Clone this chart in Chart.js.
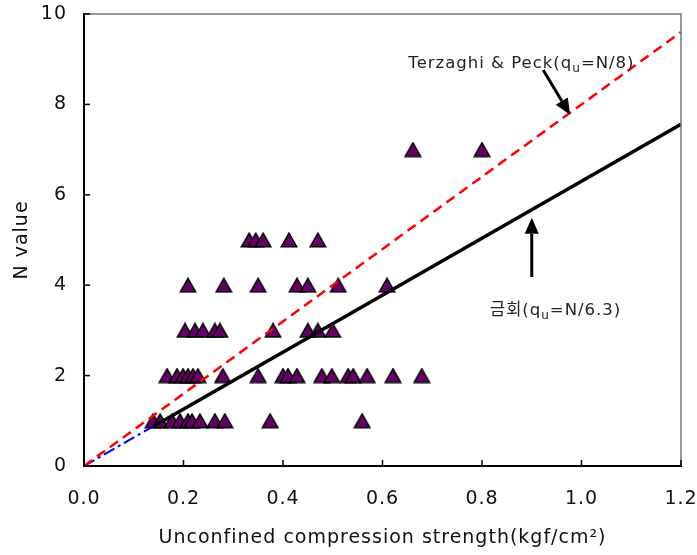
<!DOCTYPE html>
<html>
<head>
<meta charset="utf-8">
<script src="https://cdn.jsdelivr.net/npm/chart.js@4.4.1/dist/chart.umd.min.js"></script>
<style>
  html, body { margin: 0; padding: 0; background: #fff; }
</style>
</head>
<body>
<canvas id="chart" width="697" height="555"></canvas>
<script>
// measured points: unconfined compression strength (kgf/cm2) vs N value
const quValues = [
  0.139, 0.153, 0.177, 0.193, 0.209, 0.217, 0.233, 0.263, 0.283, 0.374, 0.559,
  0.167, 0.187, 0.199, 0.209, 0.219, 0.229, 0.279, 0.350, 0.400, 0.410, 0.428, 0.478, 0.498, 0.531, 0.541, 0.569, 0.621, 0.679,
  0.203, 0.223, 0.239, 0.263, 0.273, 0.380, 0.450, 0.470, 0.500,
  0.209, 0.281, 0.350, 0.428, 0.450, 0.511, 0.609,
  0.332, 0.345, 0.360, 0.412, 0.470,
  0.661, 0.800
];
const nValues = [
  1, 1, 1, 1, 1, 1, 1, 1, 1, 1, 1,
  2, 2, 2, 2, 2, 2, 2, 2, 2, 2, 2, 2, 2, 2, 2, 2, 2, 2,
  3, 3, 3, 3, 3, 3, 3, 3, 3,
  4, 4, 4, 4, 4, 4, 4,
  5, 5, 5, 5, 5,
  7, 7
];

// Terzaghi & Peck: qu = N/8
const terzaghiQu = [0, 1.2];
const terzaghiN = [0, 9.6];
// this study: qu = N/6.3 (dash-dot over full range, solid over data range)
const studyQu = [0, 1.2];
const studyN = [0, 7.56];
const fitQu = [0.14, 1.2];
const fitN = [0.88, 7.56];

const xTicks = [0, 0.2, 0.4, 0.6, 0.8, 1.0, 1.2];
const yTicks = [0, 2, 4, 6, 8, 10];

const FONT = '"DejaVu Sans", "Noto Sans CJK KR", sans-serif';

function pairs(xs, ys) {
  return xs.map((v, i) => ({ x: v, y: ys[i] }));
}

// triangle marker centred on its bounding box, like the original
function makeTriangle() {
  const c = document.createElement('canvas');
  c.width = 18;
  c.height = 16;
  const g = c.getContext('2d');
  g.beginPath();
  g.moveTo(9, 1.2);
  g.lineTo(16.8, 14.8);
  g.lineTo(1.2, 14.8);
  g.closePath();
  g.fillStyle = '#660066';
  g.fill();
  g.lineWidth = 1.5;
  g.lineJoin = 'miter';
  g.strokeStyle = '#000';
  g.stroke();
  return c;
}

function drawArrow(ctx, x1, y1, x2, y2) {
  const ang = Math.atan2(y2 - y1, x2 - x1);
  const head = 16, half = 7;
  const bx = x2 - Math.cos(ang) * head, by = y2 - Math.sin(ang) * head;
  ctx.strokeStyle = '#000';
  ctx.fillStyle = '#000';
  ctx.lineWidth = 3;
  ctx.beginPath();
  ctx.moveTo(x1, y1);
  ctx.lineTo(bx, by);
  ctx.stroke();
  ctx.beginPath();
  ctx.moveTo(x2, y2);
  ctx.lineTo(bx + Math.sin(ang) * half, by - Math.cos(ang) * half);
  ctx.lineTo(bx - Math.sin(ang) * half, by + Math.cos(ang) * half);
  ctx.closePath();
  ctx.fill();
}

// text with a subscript in the middle: "pre" + sub + "post"
function drawSubText(ctx, x, y, pre, sub, post) {
  ctx.fillStyle = '#222';
  ctx.textBaseline = 'alphabetic';
  ctx.textAlign = 'left';
  ctx.font = '16.5px ' + FONT;
  ctx.fillText(pre, x, y);
  x += ctx.measureText(pre).width;
  ctx.font = '12px ' + FONT;
  ctx.fillText(sub, x, y + 4);
  x += ctx.measureText(sub).width;
  ctx.font = '16.5px ' + FONT;
  ctx.fillText(post, x, y);
}

// the original font is set loosely, so widen the letters a bit
const spacingPlugin = {
  id: 'spacing',
  beforeLayout(chart) { chart.ctx.letterSpacing = '1px'; },
  beforeDraw(chart) { chart.ctx.letterSpacing = '1px'; }
};

const notesPlugin = {
  id: 'notes',
  afterDatasetsDraw(chart) {
    const { ctx, chartArea: a, scales: { x, y } } = chart;
    ctx.save();
    // top and right frame
    ctx.strokeStyle = '#777';
    ctx.lineWidth = 1.5;
    ctx.beginPath();
    ctx.moveTo(a.left, a.top);
    ctx.lineTo(a.right, a.top);
    ctx.lineTo(a.right, a.bottom);
    ctx.stroke();

    // inward tick marks
    ctx.strokeStyle = '#000';
    ctx.lineWidth = 1.5;
    yTicks.forEach(v => {
      const py = y.getPixelForValue(v);
      ctx.beginPath(); ctx.moveTo(a.left, py); ctx.lineTo(a.left + 6, py); ctx.stroke();
    });
    xTicks.forEach(v => {
      const px = x.getPixelForValue(v);
      ctx.beginPath(); ctx.moveTo(px, a.bottom); ctx.lineTo(px, a.bottom - 6); ctx.stroke();
    });

    // arrows and labels
    drawArrow(ctx, x.getPixelForValue(0.923), y.getPixelForValue(8.76),
                   x.getPixelForValue(0.977), y.getPixelForValue(7.77));
    drawArrow(ctx, x.getPixelForValue(0.9), y.getPixelForValue(4.18),
                   x.getPixelForValue(0.9), y.getPixelForValue(5.49));
    drawSubText(ctx, x.getPixelForValue(0.652), y.getPixelForValue(8.8), 'Terzaghi & Peck(q', 'u', '=N/8)');
    drawSubText(ctx, x.getPixelForValue(0.816), y.getPixelForValue(3.34), '금회(q', 'u', '=N/6.3)');
    ctx.restore();
  }
};

new Chart(document.getElementById('chart'), {
  type: 'scatter',
  data: {
    datasets: [
      {
        label: 'Terzaghi & Peck',
        type: 'line',
        data: pairs(terzaghiQu, terzaghiN),
        borderColor: '#ff0000',
        borderWidth: 2.5,
        borderDash: [10, 6],
        pointRadius: 0,
        order: 0
      },
      {
        label: 'fit',
        type: 'line',
        data: pairs(fitQu, fitN),
        borderColor: '#000',
        borderWidth: 3.5,
        pointRadius: 0,
        order: 0
      },
      {
        label: 'qu=N/6.3',
        type: 'line',
        data: pairs(studyQu, studyN),
        borderColor: '#0000ff',
        borderWidth: 2,
        borderDash: [12, 4, 3, 4],
        pointRadius: 0,
        order: 1
      },
      {
        label: 'data',
        data: pairs(quValues, nValues),
        pointStyle: makeTriangle(),
        pointRadius: 9,
        pointHoverRadius: 9,
        order: 2
      }
    ]
  },
  options: {
    responsive: false,
    animation: false,
    layout: { padding: { top: 14, right: 16, left: 0, bottom: 0 } },
    plugins: {
      legend: { display: false },
      tooltip: { enabled: false }
    },
    scales: {
      x: {
        type: 'linear',
        min: 0,
        max: 1.2,
        afterFit: s => { s.height = 89; s.paddingLeft = 0; s.paddingRight = 0; },
        afterBuildTicks: s => { s.ticks = xTicks.map(v => ({ value: v })); },
        ticks: {
          color: '#111',
          font: { family: FONT, size: 19 },
          padding: 22,
          callback: v => Number(v).toFixed(1)
        },
        grid: { drawOnChartArea: false, drawTicks: false },
        border: { display: true, color: '#000', width: 2 },
        title: {
          display: true,
          text: 'Unconfined compression strength(kgf/cm²)',
          color: '#111',
          font: { family: FONT, size: 19 },
          padding: { top: 0, bottom: 6 }
        }
      },
      y: {
        type: 'linear',
        min: 0,
        max: 10,
        afterFit: s => { s.width = 84; s.paddingTop = 0; s.paddingBottom = 0; },
        afterBuildTicks: s => { s.ticks = yTicks.map(v => ({ value: v })); },
        ticks: {
          color: '#111',
          font: { family: FONT, size: 19 },
          padding: 17
        },
        grid: { drawOnChartArea: false, drawTicks: false },
        border: { display: true, color: '#000', width: 2 },
        title: {
          display: true,
          text: 'N value',
          color: '#111',
          font: { family: FONT, size: 19 },
          padding: { top: 11, bottom: 11 }
        }
      }
    }
  },
  plugins: [spacingPlugin, notesPlugin]
});
</script>
</body>
</html>
